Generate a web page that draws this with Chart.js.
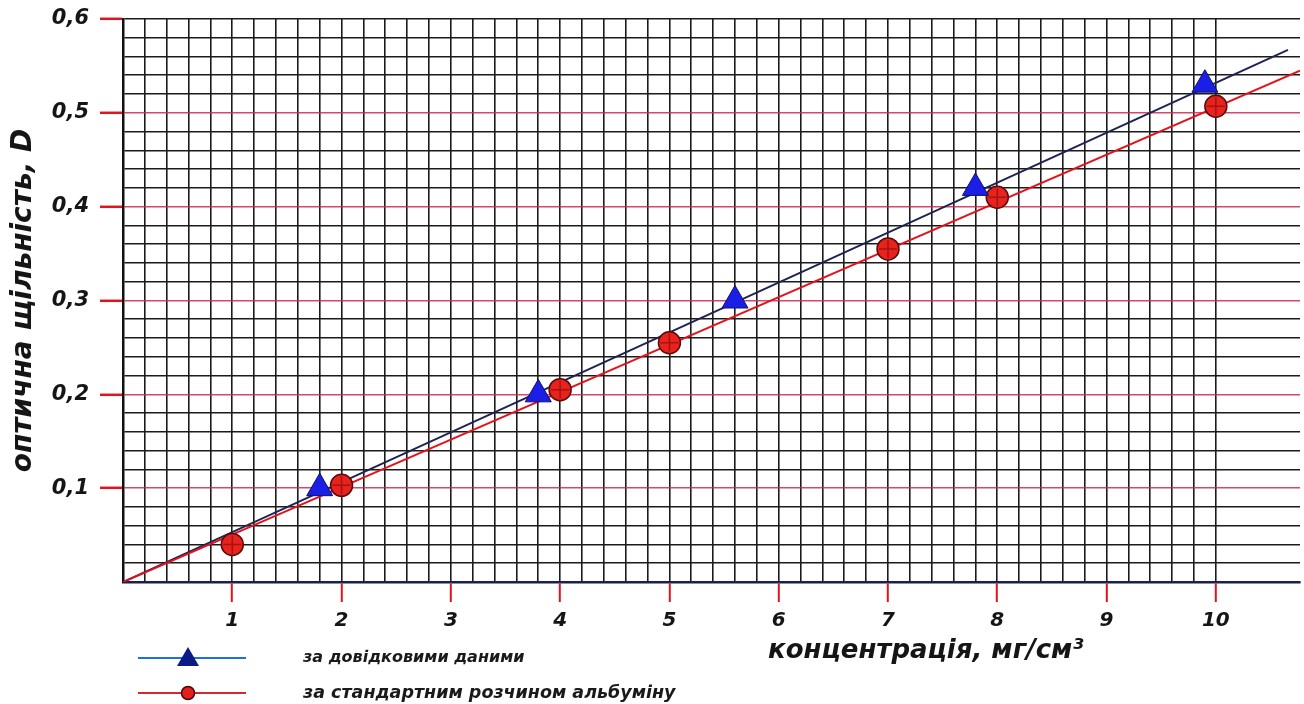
<!DOCTYPE html>
<html>
<head>
<meta charset="utf-8">
<script src="https://cdn.jsdelivr.net/npm/chart.js@4.4.1/dist/chart.umd.min.js"></script>
<style>
  html, body { margin: 0; padding: 0; background: #ffffff; }
  #wrap { position: relative; width: 1304px; height: 704px; }
  canvas { display: block; }
</style>
</head>
<body>
<div id="wrap"><canvas id="c" width="1304" height="704"></canvas></div>
<script>
// ---- data ----
const refLabel = 'за довідковими даними';
const stdLabel = 'за стандартним розчином альбуміну';
const refX = [1.8, 3.8, 5.6, 7.8, 9.9];
const refY = [0.100, 0.200, 0.300, 0.420, 0.530];
const stdX = [1, 2, 4, 5, 7, 8, 10];
const stdY = [0.040, 0.103, 0.205, 0.255, 0.355, 0.410, 0.507];
const refLineX = [0, 10.66];
const refLineY = [0, 0.567];
const stdLineX = [0, 10.77];
const stdLineY = [0, 0.545];
const xTitle = 'концентрація, мг/см³';
const yTitle = 'оптична щільність, D';
const xMin = 0, xMax = 10.77, xStep = 0.2, xGridMax = 10;
const yMin = 0, yMax = 0.6, yStep = 0.02, yMajor = 0.1;

const pts = (xs, ys) => xs.map((x, i) => ({x: x, y: ys[i]}));
const FONT = "'DejaVu Sans', sans-serif";
const isInt = v => Math.abs(v - Math.round(v)) < 1e-6;
const isMajorY = v => Math.abs(v / yMajor - Math.round(v / yMajor)) < 1e-6;
const tickVal = c => (c && c.tick) ? c.tick.value : (c && c.scale && c.scale.ticks && c.scale.ticks[c.index] ? c.scale.ticks[c.index].value : NaN);
const beyondGrid = c => { const v = tickVal(c); return !(v <= xGridMax + 1e-6); };

const legendPlugin = {
  id: 'customLegend',
  afterDraw(chart) {
    const ctx = chart.ctx;
    ctx.save();
    ctx.font = "bold italic 26px " + FONT;
    ctx.fillStyle = '#151515';
    ctx.textBaseline = 'alphabetic';
    ctx.textAlign = 'left';
    ctx.fillText(xTitle, 768, 658);
    const rows = [
      {y: 658, line: '#1f6fe0', label: chart.data.datasets[0].label, kind: 'tri', size: 16},
      {y: 693, line: '#d4282c', label: chart.data.datasets[1].label, kind: 'circ', size: 17.5}
    ];
    rows.forEach(r => {
      ctx.strokeStyle = r.line;
      ctx.lineWidth = 2;
      ctx.beginPath(); ctx.moveTo(138, r.y); ctx.lineTo(246, r.y); ctx.stroke();
      if (r.kind === 'tri') {
        ctx.fillStyle = '#0c1a86';
        ctx.beginPath();
        ctx.moveTo(188, r.y - 11); ctx.lineTo(199, r.y + 8); ctx.lineTo(177, r.y + 8);
        ctx.closePath(); ctx.fill();
      } else {
        ctx.fillStyle = '#e3201c';
        ctx.strokeStyle = '#4a0808';
        ctx.lineWidth = 1.5;
        ctx.beginPath(); ctx.arc(188, r.y, 6.5, 0, Math.PI * 2); ctx.fill(); ctx.stroke();
      }
      ctx.font = "bold italic " + r.size + "px " + FONT;
      ctx.fillStyle = '#1a1a1a';
      ctx.textBaseline = 'middle';
      ctx.fillText(r.label, 303, r.y);
    });
    ctx.restore();
  }
};

new Chart(document.getElementById('c'), {
  type: 'scatter',
  data: {
    datasets: [
      { label: refLabel, data: pts(refX, refY), pointStyle: 'triangle', pointRadius: 15,
        pointHoverRadius: 15, backgroundColor: '#1a1ee6', borderColor: '#10106a', borderWidth: 1, order: 1 },
      { label: stdLabel, data: pts(stdX, stdY), pointStyle: 'circle', pointRadius: 11,
        pointHoverRadius: 11, backgroundColor: '#e8221c', borderColor: '#5a0c0c', borderWidth: 1.5, order: 2 },
      { label: 'cross', data: pts(stdX, stdY), pointStyle: 'cross', pointRadius: 9,
        borderColor: 'rgba(110,10,10,0.55)', borderWidth: 1.5, backgroundColor: 'transparent', order: 0 },
      { label: 'refLine', data: pts(refLineX, refLineY), showLine: true, pointRadius: 0,
        borderColor: '#1e2452', borderWidth: 2, order: 4 },
      { label: 'stdLine', data: pts(stdLineX, stdLineY), showLine: true, pointRadius: 0,
        borderColor: '#e3121b', borderWidth: 2, order: 3 }
    ]
  },
  options: {
    responsive: false,
    animation: false,
    layout: { autoPadding: false, padding: { top: 19, right: 4, left: 0, bottom: 0 } },
    plugins: { legend: { display: false }, tooltip: { enabled: false } },
    scales: {
      x: {
        type: 'linear', min: xMin, max: xMax,
        afterFit(s) { s.height = 122; s.paddingRight = 0; s.paddingLeft = 0; },
        border: { color: '#1a2050', width: 2.5 },
        grid: {
          color: c => beyondGrid(c) ? 'rgba(0,0,0,0)' : '#1b1b1b',
          lineWidth: c => beyondGrid(c) ? 0 : 1.6,
          tickLength: 20,
          tickColor: c => { const v = tickVal(c); return (isInt(v) && v > 0 && v <= xGridMax + 1e-6) ? '#e0141c' : 'rgba(0,0,0,0)'; },
          tickWidth: 2
        },
        ticks: {
          stepSize: xStep, autoSkip: false, maxRotation: 0, padding: 7,
          color: '#151515',
          font: { family: FONT, size: 20, style: 'italic', weight: 'bold' },
          callback: v => (isInt(v) && v > 0 && v <= xGridMax + 1e-6) ? String(Math.round(v)) : ''
        }
      },
      y: {
        type: 'linear', min: yMin, max: yMax,
        afterFit(s) { s.width = 123; s.paddingTop = 0; s.paddingBottom = 0; },
        border: { color: '#111111', width: 2.5 },
        grid: {
          color: c => { const v = tickVal(c); return (isMajorY(v) && v > 0 && v < yMax - 1e-6) ? 'rgba(205,40,80,0.85)' : '#1b1b1b'; },
          lineWidth: 1.6,
          tickLength: 23,
          tickColor: c => { const v = tickVal(c); return (isMajorY(v) && v > 0) ? '#e0141c' : 'rgba(0,0,0,0)'; },
          tickWidth: 2.5
        },
        ticks: {
          stepSize: yStep, autoSkip: false, padding: 11,
          color: '#151515',
          font: { family: FONT, size: 21, style: 'italic', weight: 'bold', lineHeight: 0.5 },
          callback: v => (isMajorY(v) && v > 0) ? v.toFixed(1).replace('.', ',') : ''
        },
        title: {
          display: true, text: yTitle, color: '#151515',
          font: { family: FONT, size: 28, style: 'italic', weight: 'bold' },
          padding: { top: 7, bottom: 0 }
        }
      }
    }
  },
  plugins: [legendPlugin]
});
</script>
</body>
</html>
